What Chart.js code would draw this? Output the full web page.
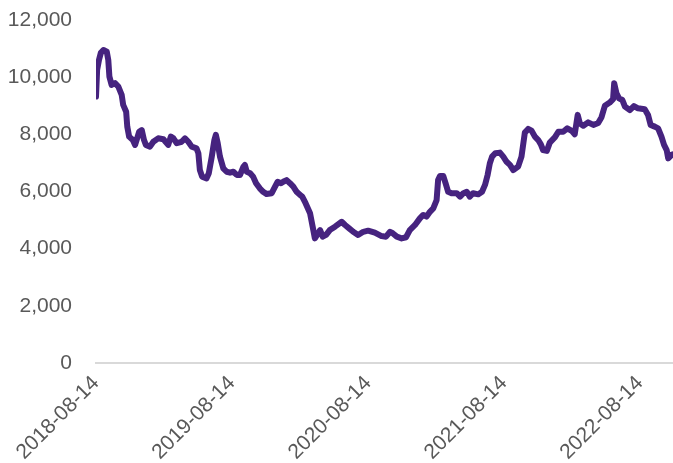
<!DOCTYPE html>
<html>
<head>
<meta charset="utf-8">
<script src="https://cdn.jsdelivr.net/npm/chart.js@4.4.0/dist/chart.umd.min.js"></script>
<style>
  html, body { margin: 0; padding: 0; background: #fff; }
  #wrap { width: 673px; height: 463px; }
</style>
</head>
<body>
<div id="wrap"><canvas id="lineChart"></canvas></div>
<script>
// Days since 2018-08-14 and the value at that day
const dayOffsets = [
  0, 3, 8, 13, 20, 29, 33, 36, 42, 51, 60, 69, 73, 81, 84, 89, 99, 105, 109, 116,
  123, 129, 134, 145, 154, 167, 181, 194, 201, 208, 217, 230, 239, 248, 257, 270, 275, 279, 285, 297,
  303, 311, 318, 322, 327, 333, 342, 351, 360, 369, 378, 387, 396, 400, 405, 414, 422, 430, 440, 449,
  458, 472, 481, 488, 497, 503, 512, 521, 530, 539, 548, 554, 563, 575, 582, 588, 594, 602, 609, 618,
  628, 642, 660, 669, 680, 691, 704, 718, 731, 749, 767, 779, 790, 797, 808, 821, 833, 843, 857, 870,
  879, 888, 897, 906, 915, 919, 924, 933, 939, 946, 955, 969, 978, 987, 996, 1004, 1013, 1027, 1037, 1045,
  1052, 1058, 1064, 1073, 1085, 1094, 1103, 1112, 1121, 1134, 1143, 1152, 1161, 1170, 1179, 1188, 1195, 1201, 1211, 1219,
  1233, 1242, 1255, 1266, 1278, 1286, 1294, 1300, 1309, 1322, 1336, 1349, 1358, 1367, 1380, 1389, 1392, 1398, 1405, 1414,
  1421, 1434, 1445, 1456, 1474, 1483, 1490, 1501, 1510, 1519, 1526, 1533, 1537, 1546, 1550
];
const values = [
  9320, 10250, 10600, 10850, 10950, 10890, 10600, 10020, 9730, 9790, 9670, 9380, 9030, 8790, 8270, 7920, 7800, 7630, 7800, 8090,
  8150, 7800, 7630, 7570, 7740, 7860, 7830, 7630, 7920, 7860, 7690, 7740, 7860, 7740, 7570, 7510, 7340, 6750, 6520, 6460,
  6640, 7220, 7800, 7980, 7690, 7220, 6810, 6690, 6660, 6690, 6580, 6580, 6870, 6930, 6690, 6640, 6520, 6290, 6110, 5990,
  5910, 5940, 6170, 6340, 6290, 6340, 6400, 6290, 6170, 5990, 5880, 5820, 5590, 5240, 4770, 4360, 4480, 4650, 4420, 4480,
  4650, 4770, 4940, 4830, 4710, 4590, 4480, 4590, 4630, 4560, 4440, 4420, 4590, 4540, 4420, 4360, 4400, 4650, 4830, 5060,
  5180, 5120, 5290, 5410, 5700, 6400, 6540, 6540, 6290, 5990, 5940, 5940, 5820, 5940, 5990, 5820, 5940, 5900, 5990, 6230,
  6580, 6990, 7220, 7340, 7360, 7220, 7040, 6930, 6750, 6870, 7220, 8060, 8190, 8130, 7920, 7800, 7650, 7450, 7420, 7710,
  7900, 8090, 8090, 8210, 8120, 8000, 8680, 8380, 8300, 8420, 8330, 8400, 8600, 9000, 9110, 9230, 9790, 9440, 9260, 9200,
  8970, 8850, 8990, 8910, 8880, 8680, 8330, 8270, 8210, 7920, 7630, 7450, 7160, 7280, 7300
];
const tickDays = [0, 365, 731, 1096, 1461];
const tickLabels = ['2018-08-14', '2019-08-14', '2020-08-14', '2021-08-14', '2022-08-14'];

const points = dayOffsets.map((d, i) => ({ x: d, y: values[i] }));

const textColor = '#595959';
const fontFamily = '"Liberation Sans", Arial, sans-serif';

const ctx = document.getElementById('lineChart').getContext('2d');
new Chart(ctx, {
  type: 'line',
  data: {
    datasets: [{
      data: points,
      borderColor: '#46237f',
      borderWidth: 6,
      borderJoinStyle: 'round',
      borderCapStyle: 'round',
      pointRadius: 0,
      tension: 0,
      fill: false
    }]
  },
  options: {
    responsive: true,
    maintainAspectRatio: false,
    animation: false,
    layout: { padding: { top: 20, right: 0, left: 0, bottom: 0 } },
    plugins: {
      legend: { display: false },
      tooltip: { enabled: false }
    },
    scales: {
      x: {
        type: 'linear',
        min: 0,
        max: dayOffsets[dayOffsets.length - 1],
        afterBuildTicks(scale) {
          scale.ticks = tickDays.map(v => ({ value: v }));
        },
        afterFit(scale) { scale.height = 100; },
        grid: { display: false, drawTicks: false },
        border: { display: true, color: '#d9d9d9', width: 2 },
        ticks: {
          autoSkip: false,
          minRotation: 45,
          maxRotation: 45,
          padding: 8,
          color: textColor,
          font: { family: fontFamily, size: 21 },
          callback(value) {
            const i = tickDays.indexOf(value);
            return i >= 0 ? tickLabels[i] : '';
          }
        }
      },
      y: {
        min: 0,
        max: 12000,
        afterFit(scale) {
          scale.width = 96;
          // the big tick padding should only push labels left, not down
          scale.paddingTop = 0;
          scale.paddingBottom = 0;
        },
        grid: { display: false, drawTicks: false },
        border: { display: false },
        ticks: {
          stepSize: 2000,
          padding: 24,
          color: textColor,
          font: { family: fontFamily, size: 21 },
          callback: v => v.toLocaleString('en-US')
        }
      }
    }
  }
});
</script>
</body>
</html>
